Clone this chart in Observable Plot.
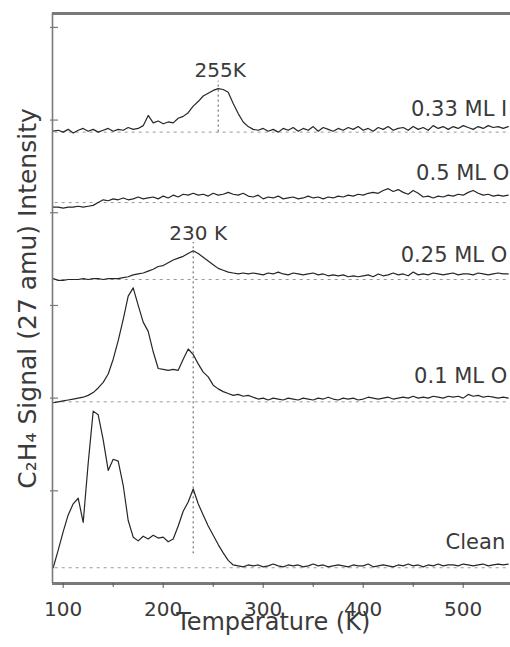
<!DOCTYPE html>
<html>
<head>
<meta charset="utf-8">
<script src="https://cdn.jsdelivr.net/npm/d3@7"></script>
<script src="https://cdn.jsdelivr.net/npm/@observablehq/plot@0.6"></script>
<style>
  html, body { margin: 0; padding: 0; background: #fff; }
  #chart svg { display: block; font-family: "DejaVu Sans", sans-serif; }
</style>
</head>
<body>
<div id="chart"></div>
<script>
// Temperature grid (K)
const temps = [
  90, 95, 100, 105, 110, 115, 120, 125, 130, 135,
  140, 145, 150, 155, 160, 165, 170, 175, 180, 185,
  190, 195, 200, 205, 210, 215, 220, 225, 230, 235,
  240, 245, 250, 255, 260, 265, 270, 275, 280, 285,
  290, 295, 300, 305, 310, 315, 320, 325, 330, 335,
  340, 345, 350, 355, 360, 365, 370, 375, 380, 385,
  390, 395, 400, 405, 410, 415, 420, 425, 430, 435,
  440, 445, 450, 455, 460, 465, 470, 475, 480, 485,
  490, 495, 500, 505, 510, 515, 520, 525, 530, 535,
  540, 545
];

// Offset signal traces (arbitrary units)
const clean = [
  0.17, 0.36, 0.56, 0.74, 0.86, 0.92, 0.66, 1.30, 1.86, 1.82,
  1.55, 1.22, 1.34, 1.32, 1.06, 0.68, 0.50, 0.46, 0.51, 0.48,
  0.52, 0.49, 0.50, 0.45, 0.48, 0.62, 0.78, 0.88, 1.02, 0.86,
  0.74, 0.62, 0.52, 0.42, 0.33, 0.25, 0.20, 0.19, 0.18, 0.20,
  0.19, 0.20, 0.18, 0.19, 0.21, 0.19, 0.18, 0.20, 0.19, 0.20,
  0.18, 0.19, 0.21, 0.19, 0.20, 0.18, 0.19, 0.20, 0.19, 0.18,
  0.20, 0.19, 0.19, 0.21, 0.18, 0.19, 0.20, 0.19, 0.18, 0.20,
  0.19, 0.21, 0.19, 0.20, 0.18, 0.20, 0.19, 0.21, 0.19, 0.20,
  0.20, 0.19, 0.21, 0.20, 0.19, 0.20, 0.21, 0.19, 0.20, 0.21,
  0.20, 0.21
];
const ml01O = [
  1.95, 1.96, 1.97, 1.98, 1.99, 2.00, 2.01, 2.03, 2.06, 2.11,
  2.17, 2.26, 2.42, 2.62, 2.85, 3.10, 3.19, 3.00, 2.82, 2.72,
  2.50, 2.32, 2.31, 2.30, 2.31, 2.30, 2.42, 2.53, 2.47, 2.37,
  2.28, 2.23, 2.14, 2.10, 2.07, 2.05, 2.03, 2.04, 2.02, 2.03,
  2.01, 1.99, 2.00, 1.98, 2.00, 1.99, 1.98, 2.00, 1.99, 1.98,
  2.00, 1.99, 1.98, 2.00, 1.99, 2.01, 1.99, 1.98, 2.00, 1.99,
  2.00, 1.98, 1.99, 2.01, 2.00, 1.99, 2.00, 2.01, 1.99, 2.00,
  2.01, 2.00, 2.02, 2.00, 2.01, 2.00, 2.02, 2.01, 2.00, 2.02,
  2.01, 2.02, 2.00, 2.04, 2.02, 2.03, 2.01, 2.02, 2.01, 2.00,
  2.01, 2.00
];
const ml025O = [
  3.29, 3.27, 3.27, 3.28, 3.28, 3.28, 3.29, 3.28, 3.29, 3.29,
  3.28, 3.29, 3.29, 3.29, 3.30, 3.31, 3.33, 3.34, 3.35, 3.37,
  3.39, 3.42, 3.43, 3.46, 3.49, 3.51, 3.53, 3.56, 3.59, 3.56,
  3.52, 3.48, 3.44, 3.40, 3.38, 3.36, 3.35, 3.34, 3.35, 3.34,
  3.35, 3.34, 3.33, 3.35, 3.34, 3.36, 3.34, 3.33, 3.35, 3.34,
  3.33, 3.34, 3.35, 3.33, 3.34, 3.32, 3.33, 3.32, 3.33, 3.31,
  3.32, 3.31, 3.32, 3.33, 3.31, 3.34, 3.32, 3.33, 3.35, 3.33,
  3.34, 3.32, 3.36, 3.33, 3.34, 3.33, 3.35, 3.34, 3.33, 3.34,
  3.35, 3.33, 3.34, 3.34, 3.33, 3.35, 3.34, 3.33, 3.34, 3.35,
  3.34, 3.34
];
const ml05O = [
  4.06, 4.06, 4.05, 4.06, 4.06, 4.07, 4.06, 4.07, 4.08, 4.11,
  4.14, 4.13, 4.15, 4.14, 4.16, 4.14, 4.15, 4.17, 4.15, 4.16,
  4.17, 4.15, 4.18, 4.16, 4.19, 4.17, 4.20, 4.19, 4.21, 4.19,
  4.20, 4.18, 4.21, 4.19, 4.20, 4.22, 4.20, 4.19, 4.21, 4.18,
  4.17, 4.19, 4.15, 4.17, 4.16, 4.18, 4.15, 4.16, 4.17, 4.15,
  4.16, 4.18, 4.16, 4.17, 4.15, 4.17, 4.16, 4.18, 4.17, 4.19,
  4.18, 4.20, 4.19, 4.21, 4.22, 4.21, 4.24, 4.26, 4.23, 4.25,
  4.22, 4.20, 4.24, 4.21, 4.17, 4.18, 4.16, 4.18, 4.17, 4.19,
  4.18, 4.20, 4.19, 4.22, 4.24, 4.21, 4.19, 4.20, 4.18, 4.19,
  4.18, 4.19
];
const ml033I = [
  4.88, 4.89, 4.87, 4.90, 4.86, 4.89, 4.91, 4.88, 4.90, 4.87,
  4.89, 4.91, 4.88, 4.90, 4.89, 4.92, 4.90, 4.91, 4.94, 5.05,
  4.97, 4.99, 4.96, 4.98, 4.97, 5.02, 5.04, 5.08, 5.15, 5.20,
  5.26, 5.29, 5.32, 5.34, 5.33, 5.30, 5.18, 5.07, 4.98, 4.93,
  4.90, 4.89, 4.91, 4.88, 4.90, 4.87, 4.91, 4.89, 4.92, 4.88,
  4.91, 4.89, 4.93, 4.88, 4.92, 4.90, 4.88, 4.91, 4.89, 4.92,
  4.90, 4.93, 4.89, 4.91, 4.88, 4.92, 4.90, 4.93, 4.89, 4.91,
  4.92, 4.89, 4.93, 4.90, 4.92, 4.89, 4.94, 4.91, 4.93, 4.90,
  4.93, 4.91, 4.94, 4.92, 4.90, 4.93, 4.91, 4.94, 4.92, 4.93,
  4.91, 4.93
];

const seriesNames = ["Clean", "0.1 ML O", "0.25 ML O", "0.5 ML O", "0.33 ML I"];
const seriesValues = [clean, ml01O, ml025O, ml05O, ml033I];
const baselines = [0.17, 1.96, 3.28, 4.11, 4.87];

// Series labels (at right) and positions in data units
const labelT = [542, 544, 544, 546, 544];
const labelY = [0.45, 2.24, 3.54, 4.43, 5.12];

// Peak annotations
const peakNames = ["255K", "230 K"];
const peakT = [255, 230];
const peakTextT = [257, 235];
const peakTextY = [5.53, 3.78];
const peakLineTop = [5.42, 3.68];
const peakLineBottom = [4.87, 0.32];

const xTicks = [100, 200, 300, 400, 500];
const xMinorTicks = [150, 250, 350, 450];
const yTicks = [1, 2, 3, 4, 5, 6];
const xDomain = [89.3, 547.3];
const yDomain = [0, 6.15];

const rows = [];
seriesNames.forEach((name, s) => {
  temps.forEach((t, i) => rows.push({series: name, T: t, v: seriesValues[s][i]}));
});
const labels = seriesNames.map((n, i) => ({name: n, T: labelT[i], y: labelY[i]}));
const peaks = peakNames.map((n, i) => ({name: n, T: peakT[i], tx: peakTextT[i], ty: peakTextY[i], top: peakLineTop[i], bottom: peakLineBottom[i]}));

const axisColor = "#7a7a7a";
const textColor = "#3a3a3a";

const chart = Plot.plot({
  width: 510,
  height: 647,
  marginLeft: 52,
  marginRight: 0,
  marginTop: 13,
  marginBottom: 64,
  style: {fontFamily: "DejaVu Sans, sans-serif", background: "#fff", color: textColor},
  x: {domain: xDomain, ticks: xTicks},
  y: {domain: yDomain},
  marks: [
    // baselines
    Plot.ruleY(baselines, {y: d => d, x1: 92, x2: 547, stroke: "#9a9a9a", strokeWidth: 1, strokeDasharray: "3,4"}),
    // peak guide lines
    Plot.ruleX(peaks, {x: "T", y1: "bottom", y2: "top", stroke: "#555", strokeWidth: 1, strokeDasharray: "2,3"}),
    // curves
    Plot.line(rows, {x: "T", y: "v", z: "series", stroke: "#262626", strokeWidth: 1.2, curve: "linear"}),
    // axes frame
    Plot.ruleX([xDomain[0]], {stroke: axisColor, strokeWidth: 1.6}),
    Plot.ruleY([yDomain[0]], {stroke: axisColor, strokeWidth: 3}),
    Plot.ruleY([yDomain[1]], {stroke: axisColor, strokeWidth: 3}),
    // y ticks (no labels)
    Plot.ruleY(yTicks, {y: d => d, x1: xDomain[0] - 2, x2: xDomain[0] + 6, stroke: axisColor, strokeWidth: 1.2}),
    // x axis
    Plot.axisX({ticks: xTicks, tickSize: 5, tickPadding: 13, fontSize: 20, stroke: "#555", label: null}),
    Plot.axisX({ticks: xMinorTicks, tickSize: 4, tickFormat: () => "", stroke: "#555", label: null}),
    Plot.axisY({ticks: [], label: null}),
    // labels
    Plot.text(labels, {x: "T", y: "y", text: "name", textAnchor: "end", fontSize: 21, fill: textColor}),
    Plot.text(peaks, {x: "tx", y: "ty", text: "name", fontSize: 20, fill: textColor}),
    // axis titles
    Plot.text(["Temperature (K)"], {x: 310, frameAnchor: "bottom", dy: 46, text: d => d, fontSize: 24, fill: textColor}),
    Plot.text(["C\u2082H\u2084 Signal (27 amu) Intensity"], {frameAnchor: "left", textAnchor: "middle", dx: -25, rotate: -90, text: d => d, fontSize: 25, fill: textColor})
  ]
});

document.getElementById("chart").appendChild(chart);
</script>
</body>
</html>
